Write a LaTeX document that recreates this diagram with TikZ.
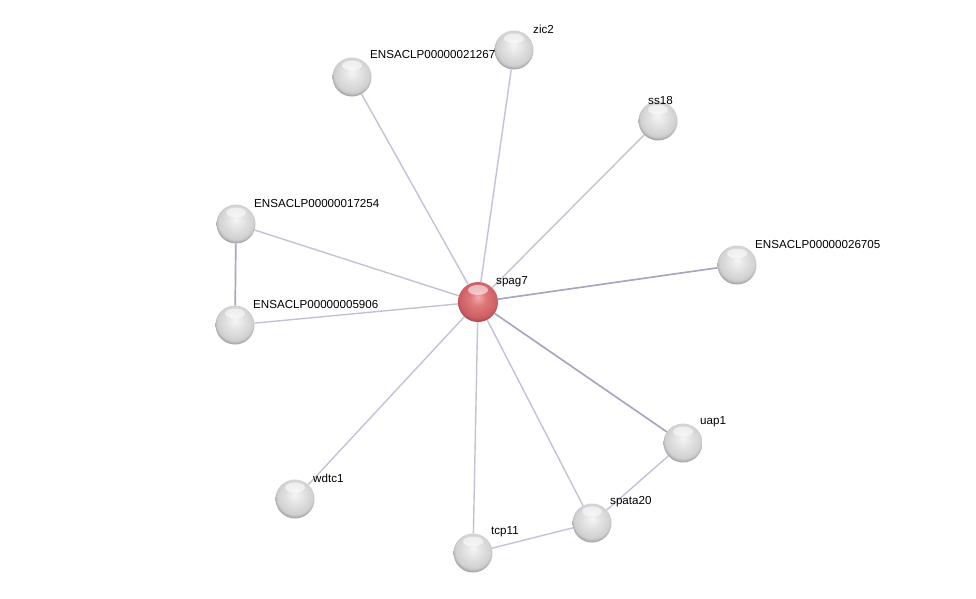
\documentclass[tikz,border=0pt]{standalone}
\usepackage{fontspec}
\setmainfont{Liberation Sans}
\definecolor{edgec}{RGB}{192,195,214}
\definecolor{sedgec}{RGB}{165,168,192}
\definecolor{r0}{RGB}{245,170,172}
\definecolor{r1}{RGB}{222,120,122}
\definecolor{r2}{RGB}{205,95,100}
\definecolor{r3}{RGB}{150,55,60}
\definecolor{g0}{RGB}{245,245,245}
\definecolor{g1}{RGB}{228,228,228}
\definecolor{g2}{RGB}{208,208,208}
\definecolor{g3}{RGB}{130,130,130}
\pgfdeclareradialshading{greyball}{\pgfpoint{0bp}{6bp}}{color(0bp)=(g0); color(10bp)=(g1); color(23bp)=(g2); color(30bp)=(g3); color(50bp)=(g3)}
\pgfdeclareradialshading{redball}{\pgfpoint{0bp}{6bp}}{color(0bp)=(r0); color(10bp)=(r1); color(23bp)=(r2); color(30bp)=(r3); color(50bp)=(r3)}
\begin{document}
\begin{tikzpicture}[x=1pt,y=-1pt,
  gloss/.style={path picture={\fill[white,fill opacity=0.55] ([yshift=-8pt]path picture bounding box.north) ellipse (10pt and 5pt);}},
  prot/.style={circle,minimum size=39pt,inner sep=0pt,shading=greyball,gloss},
  hub/.style={circle,minimum size=40pt,inner sep=0pt,shading=redball,gloss},
  lbl/.style={anchor=west,inner sep=0pt,font=\fontsize{11.6}{13}\selectfont},
  edge/.style={draw=edgec,line width=1.4pt},
  sedge/.style={draw=sedgec,line width=1.7pt}]
\useasboundingbox (0,0) rectangle (976,598);
% nodes
\node[hub]  (spag7) at (478,302) {};
\node[prot] (zic2) at (514,50) {};
\node[prot] (e21267) at (352,77) {};
\node[prot] (ss18) at (658,121) {};
\node[prot] (e17254) at (236,224) {};
\node[prot] (e26705) at (737,265) {};
\node[prot] (e5906) at (235,325) {};
\node[prot] (uap1) at (683,443) {};
\node[prot] (wdtc1) at (295,499) {};
\node[prot] (spata20) at (592,523) {};
\node[prot] (tcp11) at (473,553) {};
% edges
\draw[edge] (spag7) -- (zic2);
\draw[edge] (spag7) -- (e21267);
\draw[edge] (spag7) -- (ss18);
\draw[edge] (spag7) -- (e17254);
\draw[sedge] (spag7) -- (e26705);
\draw[edge] (spag7) -- (e5906);
\draw[sedge] (spag7) -- (uap1);
\draw[edge] (spag7) -- (wdtc1);
\draw[edge] (spag7) -- (spata20);
\draw[edge] (spag7) -- (tcp11);
\draw[sedge] (e17254) -- (e5906);
\draw[edge] (uap1) -- (spata20);
\draw[edge] (spata20) -- (tcp11);
% labels
\node[lbl] (l1) at (496,282) {spag7};
\node[lbl] (l2) at (533,29) {zic2};
\node[lbl] (l3) at (370,55) {ENSACLP00000021267};
\node[lbl] (l4) at (648,101) {ss18};
\node[lbl] (l5) at (254,203) {ENSACLP00000017254};
\node[lbl] (l6) at (755,244) {ENSACLP00000026705};
\node[lbl] (l7) at (253,304) {ENSACLP00000005906};
\node[lbl] (l8) at (700,422) {uap1};
\node[lbl] (l9) at (313,478) {wdtc1};
\node[lbl] (l10) at (610,502) {spata20};
\node[lbl] (l11) at (491,532) {tcp11};
\end{tikzpicture}
\end{document}
